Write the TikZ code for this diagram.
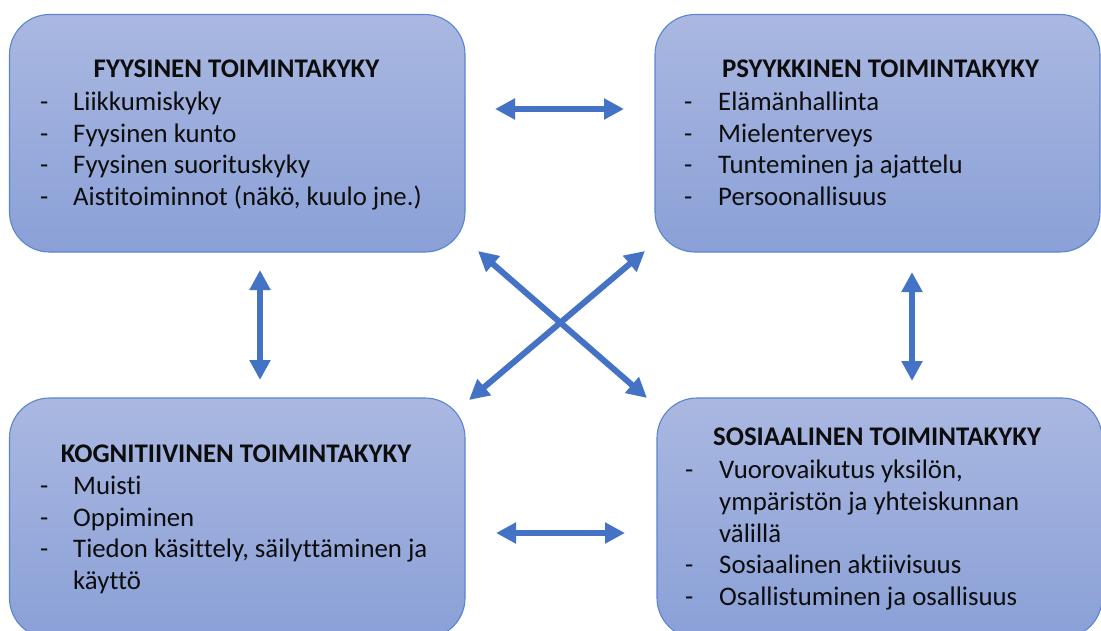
\documentclass[tikz,border=0pt]{standalone}
\usepackage{fontspec}
\setmainfont{Carlito}[Ligatures=NoCommon, Contextuals=NoAlternate]
\usetikzlibrary{arrows.meta}
\definecolor{arrblue}{HTML}{4472C4}
\definecolor{boxline}{HTML}{5A85CF}
\definecolor{boxtop}{HTML}{AAB8E1}
\definecolor{boxbot}{HTML}{8AA0D7}
\definecolor{txt}{HTML}{0D0D0D}
\tikzset{
  box/.style={draw=boxline, line width=1.1pt, rounded corners=40pt,
    top color=boxtop, bottom color=boxbot, inner sep=0pt},
  ttl/.style={anchor=base, inner sep=0pt, text=txt, font=\fontsize{26.9}{30}\selectfont\bfseries},
  itm/.style={anchor=base west, inner sep=0pt, text=txt, font=\fontsize{26.8}{30}\selectfont},
  arr/.style={draw=arrblue, line width=6pt, {Triangle[length=20pt,width=20pt]}-{Triangle[length=20pt,width=20pt]}}
}
\begin{document}
\begin{tikzpicture}[x=1pt,y=-1pt]
\useasboundingbox (0,0) rectangle (1101,630);
\clip (0,0) rectangle (1101,630);
\fill[white] (0,0) rectangle (1101,630);
% boxes
\node[box, minimum width=455.5pt, minimum height=237.5pt] (fy) at (237.25,133.25) {};
\node[box, minimum width=445pt, minimum height=237.5pt] (ps) at (877.5,133.25) {};
\node[box, minimum width=455.5pt, minimum height=240pt] (ko) at (237.25,518) {};
\node[box, minimum width=445pt, minimum height=240pt] (so) at (879.5,518) {};
% texts: fyysinen
\node[ttl] (fyt) at (236.5,77) {FYYSINEN TOIMINTAKYKY};
\node[itm] (fyd1) at (40,110) {-};
\node[itm] (fyi1) at (73,110) {Liikkumiskyky};
\node[itm] (fyd2) at (40,142) {-};
\node[itm] (fyi2) at (73,142) {Fyysinen kunto};
\node[itm] (fyd3) at (40,173.5) {-};
\node[itm] (fyi3) at (73,173.5) {Fyysinen suorituskyky};
\node[itm] (fyd4) at (40,205) {-};
\node[itm] (fyi4) at (73,205) {Aistitoiminnot (näkö, kuulo jne.)};
% psyykkinen
\node[ttl] (pst) at (880.5,77) {PSYYKKINEN TOIMINTAKYKY};
\node[itm] (psd1) at (684,110) {-};
\node[itm] (psi1) at (718,110) {Elämänhallinta};
\node[itm] (psd2) at (684,142) {-};
\node[itm] (psi2) at (718,142) {Mielenterveys};
\node[itm] (psd3) at (684,173.5) {-};
\node[itm] (psi3) at (718,173.5) {Tunteminen ja ajattelu};
\node[itm] (psd4) at (684,205) {-};
\node[itm] (psi4) at (718,205) {Persoonallisuus};
% kognitiivinen
\node[ttl] (kot) at (236,462) {KOGNITIIVINEN TOIMINTAKYKY};
\node[itm] (kod1) at (40,494) {-};
\node[itm] (koi1) at (73,494) {Muisti};
\node[itm] (kod2) at (40,526) {-};
\node[itm] (koi2) at (73,526) {Oppiminen};
\node[itm] (kod3) at (40,557.5) {-};
\node[itm] (koi3) at (73,557.5) {Tiedon käsittely, säilyttäminen ja};
\node[itm] (koi4) at (73,589.5) {käyttö};
% sosiaalinen
\node[ttl] (sot) at (877,445) {SOSIAALINEN TOIMINTAKYKY};
\node[itm] (sod1) at (685,478) {-};
\node[itm] (soi1) at (719,478) {Vuorovaikutus yksilön,};
\node[itm] (soi2) at (719,510) {ympäristön ja yhteiskunnan};
\node[itm] (soi3) at (719,542) {välillä};
\node[itm] (sod4) at (685,573.5) {-};
\node[itm] (soi4) at (719,573.5) {Sosiaalinen aktiivisuus};
\node[itm] (sod5) at (685,605.5) {-};
\node[itm] (soi5) at (719,605.5) {Osallistuminen ja osallisuus};
% arrow ends
\coordinate (h1a) at (495,109);
\coordinate (h1b) at (624,109);
\coordinate (h2a) at (496,533);
\coordinate (h2b) at (625,533);
\coordinate (v1a) at (260,270);
\coordinate (v1b) at (260,380);
\coordinate (v2a) at (912,272);
\coordinate (v2b) at (912,381);
\coordinate (d1a) at (478,251);
\coordinate (d1b) at (647,398);
\coordinate (d2a) at (645,251);
\coordinate (d2b) at (469,400);
\draw[arr] (h1a) -- (h1b);
\draw[arr] (h2a) -- (h2b);
\draw[arr] (v1a) -- (v1b);
\draw[arr] (v2a) -- (v2b);
\draw[arr] (d1a) -- (d1b);
\draw[arr] (d2a) -- (d2b);
\end{tikzpicture}
\end{document}
